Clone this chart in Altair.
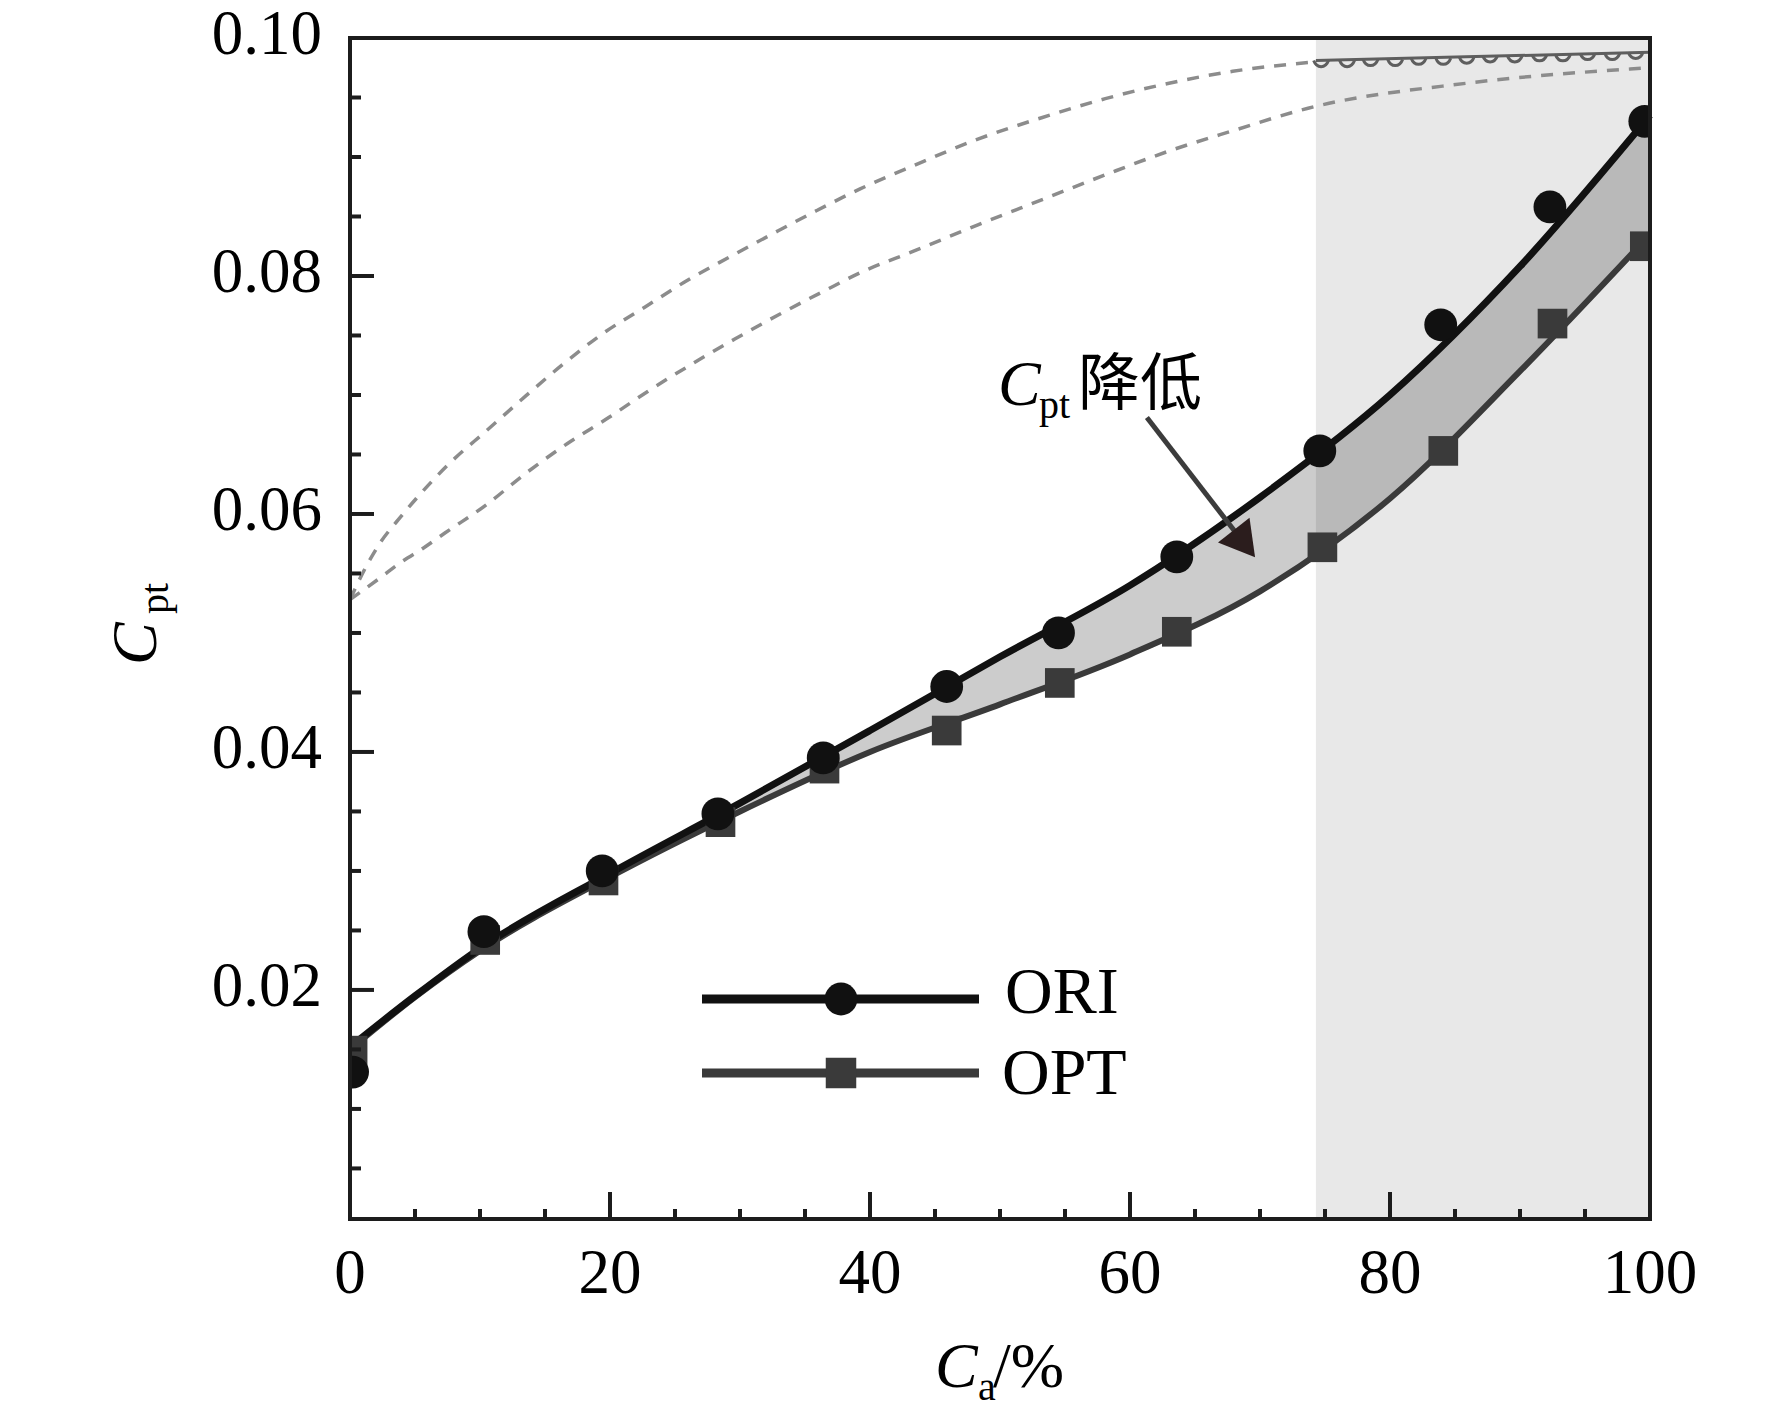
import altair as alt
import pandas as pd

# ---- values ----
# fitted curves
line_x = [0, 5, 10, 20, 30, 40, 50, 60, 70, 80, 90, 100]
ori_line = [0.0152, 0.0195, 0.0235, 0.0298, 0.0357, 0.0418, 0.0480, 0.0540, 0.0614, 0.0700, 0.0808, 0.0935]
opt_line = [0.0150, 0.0194, 0.0233, 0.0295, 0.0350, 0.0400, 0.0440, 0.0482, 0.0535, 0.0613, 0.0720, 0.0835]

# markers
ori_x = [0.2, 10.3, 19.4, 28.3, 36.4, 45.9, 54.5, 63.6, 74.6, 83.9, 92.3, 99.6]
ori_y = [0.0131, 0.0249, 0.0300, 0.0348, 0.0395, 0.0455, 0.0500, 0.0564, 0.0653, 0.0759, 0.0858, 0.0930]
opt_x = [0.2, 10.4, 19.5, 28.5, 36.5, 45.9, 54.6, 63.6, 74.8, 84.1, 92.5, 99.6]
opt_y = [0.0149, 0.0242, 0.0292, 0.0341, 0.0386, 0.0418, 0.0458, 0.0501, 0.0572, 0.0653, 0.0760, 0.0825]

# grey dashed curves
upper_x = [0, 1.2, 2.4, 3.7, 5.1, 7.7, 10.5, 13.5, 16.4, 19.5, 22.7, 25.9, 29.2, 32.6,
           35.9, 39.2, 43.4, 48.3, 53.2, 58.1, 63.0, 67.9, 74.3]
upper_y = [0.0528, 0.0555, 0.0577, 0.0595, 0.0613, 0.0643, 0.0670, 0.0699, 0.0726, 0.0752,
           0.0774, 0.0796, 0.0816, 0.0836, 0.0855, 0.0873, 0.0893, 0.0915, 0.0933, 0.0949,
           0.0962, 0.0972, 0.0980]
lower_x = [0, 2.4, 4.0, 5.6, 7.3, 10.4, 13.5, 16.7, 19.9, 22.9, 26.3, 29.6, 32.9, 36.4,
           39.5, 43.4, 48.3, 53.2, 58.1, 63.0, 67.9, 73.7, 85.9, 100]
lower_y = [0.0528, 0.0547, 0.0560, 0.0571, 0.0584, 0.0607, 0.0634, 0.0659, 0.0681, 0.0703,
           0.0726, 0.0747, 0.0767, 0.0787, 0.0804, 0.0821, 0.0843, 0.0864, 0.0885, 0.0905,
           0.0922, 0.0941, 0.0962, 0.0975]

# wavy segment on top of the shaded band
wave_x = [74.3, 100]
wave_y = [0.0981, 0.0988]
dip_x = [74.7, 76.7, 78.5, 80.4, 82.2, 84.1, 85.9, 87.7, 89.6, 91.5, 93.3, 95.2, 97.1, 98.9]
dip_y = [0.0981, 0.0981, 0.0982, 0.0982, 0.0983, 0.0983, 0.0984, 0.0985, 0.0985, 0.0986,
         0.0986, 0.0987, 0.0987, 0.0988]

shade_x = [74.3, 100]
arrow_x = [61.3, 68.8]
arrow_y = [0.0681, 0.0575]

x_labels = [0, 20, 40, 60, 80, 100]
y_labels = [0.02, 0.04, 0.06, 0.08, 0.10]
x_minor = [5, 10, 15, 25, 30, 35, 45, 50, 55, 65, 70, 75, 85, 90, 95]
y_minor = [0.005, 0.01, 0.015, 0.025, 0.03, 0.035, 0.045, 0.05, 0.055,
           0.065, 0.07, 0.075, 0.085, 0.09, 0.095]

W, H = 1300, 1181
SERIF = "Liberation Serif"
CJK = "Noto Sans CJK SC"
INK = "#1c1c1c"

xs = alt.Scale(domain=[0, 100], nice=False, zero=False)
ys = alt.Scale(domain=[0.00075, 0.1], nice=False, zero=False)

lines = pd.DataFrame({"x": line_x, "ori": ori_line, "opt": opt_line})
one = pd.DataFrame({"k": [0]})


def X(f):
    return alt.X(f, scale=xs, axis=None)


def Y(f):
    return alt.Y(f, scale=ys, axis=None)


# shaded region
shade = alt.Chart(pd.DataFrame({"a": [shade_x[0]], "b": [shade_x[1]]})).mark_rect(
    color="#e8e8e8").encode(x=X("a:Q"), x2="b:Q", y=alt.value(0), y2=alt.value(H))

band = alt.Chart(lines).mark_area(color="black", opacity=0.2, interpolate="monotone").encode(
    x=X("x:Q"), y=Y("ori:Q"), y2="opt:Q")

dash = dict(color="#8c8c8c", strokeWidth=3.5, strokeDash=[12, 10], interpolate="monotone")
upper = alt.Chart(pd.DataFrame({"x": upper_x, "y": upper_y})).mark_line(**dash).encode(
    x=X("x:Q"), y=Y("y:Q"))
lower = alt.Chart(pd.DataFrame({"x": lower_x, "y": lower_y})).mark_line(**dash).encode(
    x=X("x:Q"), y=Y("y:Q"))

wave = alt.Chart(pd.DataFrame({"x": wave_x, "y": wave_y})).mark_line(
    color="#5e5e5e", strokeWidth=3).encode(x=X("x:Q"), y=Y("y:Q"))
dips = alt.Chart(pd.DataFrame({"x": dip_x, "y": dip_y})).mark_point(
    shape="M -1 0 C -0.6 1.1 0.6 1.1 1 0", filled=False, color="#5e5e5e",
    strokeWidth=3, size=220, opacity=1).encode(x=X("x:Q"), y=Y("y:Q"))

opt_l = alt.Chart(lines).mark_line(color="#3a3a3a", strokeWidth=6, interpolate="monotone").encode(
    x=X("x:Q"), y=Y("opt:Q"))
ori_l = alt.Chart(lines).mark_line(color="#111111", strokeWidth=7, interpolate="monotone").encode(
    x=X("x:Q"), y=Y("ori:Q"))

opt_p = alt.Chart(pd.DataFrame({"x": opt_x, "y": opt_y})).mark_point(
    shape="square", filled=True, color="#3a3a3a", size=880, opacity=1, clip=True).encode(
    x=X("x:Q"), y=Y("y:Q"))
ori_p = alt.Chart(pd.DataFrame({"x": ori_x, "y": ori_y})).mark_point(
    shape="circle", filled=True, color="#111111", size=1075, opacity=1, clip=True).encode(
    x=X("x:Q"), y=Y("y:Q"))

# annotation arrow
arrow_df = pd.DataFrame({"x": arrow_x, "y": arrow_y})
shaft = alt.Chart(arrow_df).mark_line(color="#3c3c3c", strokeWidth=5).encode(
    x=X("x:Q"), y=Y("y:Q"))
head = alt.Chart(arrow_df.tail(1)).mark_point(
    shape="triangle-up", filled=True, color="#2b1d1d", size=1600, angle=142, opacity=1).encode(
    x=X("x:Q"), y=Y("y:Q"))


# inward ticks
def yticks(vals, length):
    return alt.Chart(pd.DataFrame({"v": vals})).mark_rule(color=INK, strokeWidth=4).encode(
        y=Y("v:Q"), x=alt.value(0), x2=alt.value(length))


def xticks(vals, length):
    return alt.Chart(pd.DataFrame({"v": vals})).mark_rule(color=INK, strokeWidth=4).encode(
        x=X("v:Q"), y=alt.value(H), y2=alt.value(H - length))


ticks = [yticks([v for v in y_labels if v < 0.1], 24), yticks(y_minor, 11),
         xticks([v for v in x_labels if 0 < v < 100], 27), xticks(x_minor, 10)]

# tick labels
xlab = alt.Chart(pd.DataFrame({"v": x_labels, "t": [str(v) for v in x_labels]})).mark_text(
    font=SERIF, fontSize=63, color="black", align="center", baseline="alphabetic").encode(
    x=X("v:Q"), y=alt.value(H + 74), text="t:N")
ylab = alt.Chart(pd.DataFrame({"v": y_labels, "t": [f"{v:.2f}" for v in y_labels]})).mark_text(
    font=SERIF, fontSize=63, color="black", align="right", baseline="middle", dy=-3).encode(
    y=Y("v:Q"), x=alt.value(-28), text="t:N")

frame = alt.Chart(one).mark_rect(filled=False, stroke=INK, strokeWidth=4).encode(
    x=alt.value(0), x2=alt.value(W), y=alt.value(0), y2=alt.value(H))


def txt(text, x, y, size, font=SERIF, style="normal", angle=0, baseline="alphabetic"):
    return alt.Chart(one).mark_text(
        text=text, font=font, fontSize=size, fontStyle=style, angle=angle,
        baseline=baseline, align="left", color="black").encode(x=alt.value(x), y=alt.value(y))


# legend drawn by hand
def leg_line(y, color, width):
    return alt.Chart(one).mark_rule(color=color, strokeWidth=width).encode(
        x=alt.value(352), x2=alt.value(629), y=alt.value(y))


def leg_mark(y, shape, color, size):
    return alt.Chart(one).mark_point(shape=shape, filled=True, color=color, size=size,
                                     opacity=1).encode(x=alt.value(491), y=alt.value(y))


legend = [
    leg_line(961, "#111111", 9), leg_mark(961, "circle", "#111111", 1075),
    leg_line(1035, "#3a3a3a", 9), leg_mark(1035, "square", "#3a3a3a", 930),
    txt("ORI", 655, 955, 66, baseline="middle"),
    txt("OPT", 652, 1036, 66, baseline="middle"),
]

texts = [
    # annotation
    txt("C", 648, 367, 64, style="italic"),
    txt("pt", 689, 380, 40),
    txt("降低", 728, 367, 62, font=CJK),
    # x title
    txt("C", 585, 1349, 64, style="italic"),
    txt("a", 628, 1362, 40),
    txt("/%", 643, 1349, 64),
    # y title
    txt("C", -194, 627, 64, style="italic", angle=270),
    txt("pt", -182, 576, 40, angle=270),
]

chart = alt.layer(
    shade, band, upper, lower, wave, dips, opt_l, ori_l, opt_p, ori_p, shaft, head,
    *ticks, xlab, ylab, *legend, *texts, frame
).properties(
    width=W, height=H,
    padding={"left": 342, "top": 30, "right": 114, "bottom": 194},
    autosize=alt.AutoSizeParams(type="none"),
).configure_view(stroke=None).configure(background="white")

chart.save("out.html", embed_options={"renderer": "svg", "actions": False})
